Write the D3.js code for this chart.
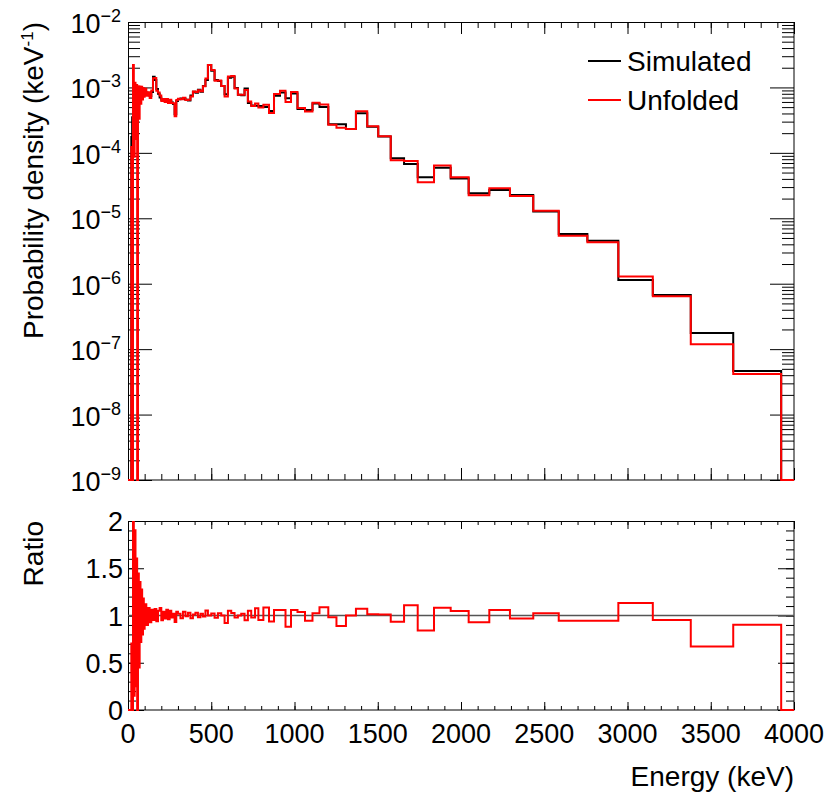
<!DOCTYPE html>
<html>
<head>
<meta charset="utf-8">
<script src="https://cdn.jsdelivr.net/npm/d3@7"></script>
<style>
body{margin:0;background:#fff;}
text{font-family:"Liberation Sans",Arial,Helvetica,sans-serif;fill:#000;}
</style>
</head>
<body>
<script>
// bin edges (keV)
var binEdges=[0,20,25,30,35,40,45,50,55,60,65,70,75,80,85,90,95,100,
  110,120,130,140,150,160,170,180,190,200,210,220,230,240,250,260,270,280,290,300,
  315,330,345,360,375,390,405,420,435,450,465,480,
  500,520,540,560,580,600,620,640,660,680,700,720,740,763,
  783,813,847,877,913,946,979,1018,1063,1108,1150,1203,1252,1309,1369,1437,1503,1578,1658,1740,
  1838,1938,2046,2170,2294,2434,2587,2759,2945,3152,3380,3635,3923,4000];

// probability density per bin (keV^-1)
var simulated=[0,
  1.75e-4,3.5e-4,5.0e-4,5.8e-4,6.2e-4,6.5e-4,6.8e-4,7.0e-4,7.2e-4,7.4e-4,7.6e-4,7.8e-4,8.0e-4,8.2e-4,8.3e-4,8.4e-4,
  8.5e-4,8.3e-4,7.8e-4,7.4e-4,8.5e-4,1.45e-3,1.3e-3,9.5e-4,8.0e-4,7.0e-4,6.5e-4,6.4e-4,6.2e-4,6.3e-4,6.0e-4,6.2e-4,5.9e-4,5.6e-4,3.9e-4,6.2e-4,
  6.6e-4,6.8e-4,6.7e-4,6.5e-4,6.3e-4,7.5e-4,8.6e-4,8.3e-4,9.2e-4,8.6e-4,1.05e-3,1.3e-3,
  2.2e-3,1.8e-3,1.3e-3,1.25e-3,1.05e-3,7.9e-4,1.4e-3,1.45e-3,9.8e-4,7.7e-4,7.6e-4,9.6e-4,5.8e-4,5.3e-4,
  5.26e-4,5.2e-4,5.02e-4,4.36e-4,7.48e-4,8.37e-4,6.82e-4,8.07e-4,4.68e-4,4.52e-4,
  5.68e-4,5.02e-4,2.73e-4,2.73e-4,2.32e-4,4.03e-4,2.51e-4,1.78e-4,8.28e-5,6.76e-5,
  4.25e-5,5.93e-5,4.06e-5,2.41e-5,2.71e-5,2.27e-5,1.27e-5,5.75e-6,4.54e-6,1.14e-6,
  6.73e-7,1.77e-7,4.64e-8,0];

var unfolded=[0,
  1.23e-4,0,2.2e-3,8.7e-5,1.18e-3,1.63e-4,1.09e-3,0,1.04e-3,3.33e-4,1.03e-3,5.62e-4,1.02e-3,6.56e-4,9.79e-4,7.22e-4,
  9.52e-4,7.47e-4,8.42e-4,6.88e-4,9.01e-4,1.38e-3,1.39e-3,8.93e-4,8.4e-4,7.56e-4,6.18e-4,6.66e-4,6.01e-4,6.68e-4,5.76e-4,6.51e-4,5.78e-4,5.71e-4,3.63e-4,6.45e-4,
  6.73e-4,6.6e-4,6.97e-4,6.44e-4,6.49e-4,7.28e-4,8.69e-4,8.55e-4,9.02e-4,8.77e-4,1.04e-3,1.37e-3,
  2.2e-3,1.84e-3,1.27e-3,1.28e-3,1.05e-3,7.27e-4,1.47e-3,1.49e-3,9.6e-4,7.7e-4,7.75e-4,9.12e-4,6.09e-4,5.19e-4,
  5.66e-4,4.95e-4,5.44e-4,4.08e-4,7.91e-4,8.86e-4,6.0e-4,8.54e-4,4.85e-4,4.27e-4,
  5.81e-4,5.46e-4,2.68e-4,2.43e-4,2.32e-4,4.32e-4,2.54e-4,1.80e-4,7.74e-5,7.5e-5,
  3.57e-5,6.42e-5,4.25e-5,2.24e-5,2.87e-5,2.2e-5,1.3e-5,5.43e-6,4.29e-6,1.29e-6,
  6.41e-7,1.19e-7,4.18e-8,0];

var seriesNames=["Simulated","Unfolded"];
var seriesColors=["#000","#ff0000"];
var xTicks=[0,500,1000,1500,2000,2500,3000,3500,4000];
var xMinor=d3.range(0,4001,100);
var decades=[1e-9,1e-8,1e-7,1e-6,1e-5,1e-4,1e-3,1e-2];
var decadeExp=["−9","−8","−7","−6","−5","−4","−3","−2"];
var ratioTicks=[0,0.5,1,1.5,2];
var ratioLabels=["0","0.5","1","1.5","2"];
var ratioMinor=d3.range(0,2.001,0.1);

var logMinor=[];
decades.slice(0,-1).forEach(function(d){ for(var k=2;k<10;k++) logMinor.push(d*k); });

var ratio=simulated.map(function(s,i){ return s>0 ? unfolded[i]/s : 0; });

var svg=d3.select("body").append("svg").attr("width",827).attr("height",794);
svg.append("rect").attr("width",827).attr("height",794).attr("fill","#fff");

var x=d3.scaleLinear().domain([0,4000]).range([128,794]);
var y=d3.scaleLog().domain([1e-9,1e-2]).range([480,22]).clamp(true);
var yR=d3.scaleLinear().domain([0,2]).range([710,521]);

var defs=svg.append("defs");
defs.append("clipPath").attr("id","clipTop").append("rect")
  .attr("x",127).attr("y",21).attr("width",668).attr("height",461);
defs.append("clipPath").attr("id","clipRatio").append("rect")
  .attr("x",127).attr("y",521).attr("width",668).attr("height",191);

function steps(vals){
  var pts=vals.map(function(v,i){ return [binEdges[i],v]; });
  pts.push([binEdges[vals.length],vals[vals.length-1]]);
  return pts;
}

var lineTop=d3.line()
  .x(function(d){return x(d[0]);})
  .y(function(d){return y(d[1]>0?d[1]:1e-12);})
  .curve(d3.curveStepAfter);
var lineRatio=d3.line()
  .x(function(d){return x(d[0]);})
  .y(function(d){return yR(d[1]);})
  .curve(d3.curveStepAfter);

function drawAxis(g,axis){
  g.call(axis);
  g.select(".domain").remove();
  g.selectAll(".tick line").attr("stroke","#000").attr("stroke-width",1);
  g.selectAll(".tick text").remove();
}

// ---------- top pad ----------
var topG=svg.append("g");
drawAxis(topG.append("g").attr("transform","translate(0,480)"),d3.axisBottom(x).tickValues(xTicks).tickSize(-12));
drawAxis(topG.append("g").attr("transform","translate(0,480)"),d3.axisBottom(x).tickValues(xMinor).tickSize(-6));
drawAxis(topG.append("g").attr("transform","translate(0,22)"),d3.axisTop(x).tickValues(xTicks).tickSize(-12));
drawAxis(topG.append("g").attr("transform","translate(0,22)"),d3.axisTop(x).tickValues(xMinor).tickSize(-6));
drawAxis(topG.append("g").attr("transform","translate(128,0)"),d3.axisLeft(y).tickValues(decades).tickSize(-24));
drawAxis(topG.append("g").attr("transform","translate(128,0)"),d3.axisLeft(y).tickValues(logMinor).tickSize(-12));
drawAxis(topG.append("g").attr("transform","translate(794,0)"),d3.axisRight(y).tickValues(decades).tickSize(-24));
drawAxis(topG.append("g").attr("transform","translate(794,0)"),d3.axisRight(y).tickValues(logMinor).tickSize(-12));

topG.append("rect").attr("x",128.5).attr("y",22.5).attr("width",665.5).attr("height",457.5)
  .attr("fill","none").attr("stroke","#000").attr("stroke-width",1);

var series=[simulated,unfolded];
series.forEach(function(vals,i){
  topG.append("path").attr("d",lineTop(steps(vals)))
    .attr("clip-path","url(#clipTop)")
    .attr("fill","none").attr("stroke",seriesColors[i]).attr("stroke-width",2);
});

decades.forEach(function(d,i){
  var t=topG.append("text").attr("x",121).attr("y",y(d)+11).attr("text-anchor","end")
    .attr("font-size",27);
  t.append("tspan").text("10");
  t.append("tspan").attr("dy",-11).attr("font-size",18).text(decadeExp[i]);
});

var yt=topG.append("text").attr("transform","translate(43,22) rotate(-90)")
  .attr("text-anchor","end").attr("font-size",28);
yt.append("tspan").text("Probability density (keV");
yt.append("tspan").attr("dy",-10).attr("font-size",17).text("-1");
yt.append("tspan").attr("dy",10).text(")");

// legend
seriesNames.forEach(function(n,i){
  var ly=61+i*39;
  topG.append("line").attr("x1",588).attr("x2",621).attr("y1",ly).attr("y2",ly)
    .attr("stroke",seriesColors[i]).attr("stroke-width",2);
  topG.append("text").attr("x",627).attr("y",ly+10).attr("font-size",28).text(n);
});

// ---------- ratio pad ----------
var rG=svg.append("g");
drawAxis(rG.append("g").attr("transform","translate(0,710)"),d3.axisBottom(x).tickValues(xTicks).tickSize(-8));
drawAxis(rG.append("g").attr("transform","translate(0,710)"),d3.axisBottom(x).tickValues(xMinor).tickSize(-4));
drawAxis(rG.append("g").attr("transform","translate(0,521)"),d3.axisTop(x).tickValues(xTicks).tickSize(-8));
drawAxis(rG.append("g").attr("transform","translate(0,521)"),d3.axisTop(x).tickValues(xMinor).tickSize(-4));
drawAxis(rG.append("g").attr("transform","translate(128,0)"),d3.axisLeft(yR).tickValues(ratioTicks).tickSize(-16));
drawAxis(rG.append("g").attr("transform","translate(128,0)"),d3.axisLeft(yR).tickValues(ratioMinor).tickSize(-8));
drawAxis(rG.append("g").attr("transform","translate(794,0)"),d3.axisRight(yR).tickValues(ratioTicks).tickSize(-16));
drawAxis(rG.append("g").attr("transform","translate(794,0)"),d3.axisRight(yR).tickValues(ratioMinor).tickSize(-8));

rG.append("rect").attr("x",128.5).attr("y",521.5).attr("width",665.5).attr("height",188.5)
  .attr("fill","none").attr("stroke","#000").attr("stroke-width",1);

rG.append("line").attr("x1",x(0)).attr("x2",x(4000)).attr("y1",yR(1)).attr("y2",yR(1))
  .attr("stroke","#555").attr("stroke-width",1.5);

rG.append("path").attr("d",lineRatio(steps(ratio)))
  .attr("clip-path","url(#clipRatio)")
  .attr("fill","none").attr("stroke","#ff0000").attr("stroke-width",2);

ratioTicks.forEach(function(r,i){
  rG.append("text").attr("x",123).attr("y",yR(r)+10).attr("text-anchor","end")
    .attr("font-size",27).text(ratioLabels[i]);
});
xTicks.forEach(function(v){
  rG.append("text").attr("x",x(v)).attr("y",743).attr("text-anchor","middle")
    .attr("font-size",27).text(v);
});

rG.append("text").attr("transform","translate(43,521) rotate(-90)")
  .attr("text-anchor","end").attr("font-size",28).text("Ratio");
rG.append("text").attr("x",794).attr("y",786).attr("text-anchor","end")
  .attr("font-size",28).text("Energy (keV)");
</script>
</body>
</html>
